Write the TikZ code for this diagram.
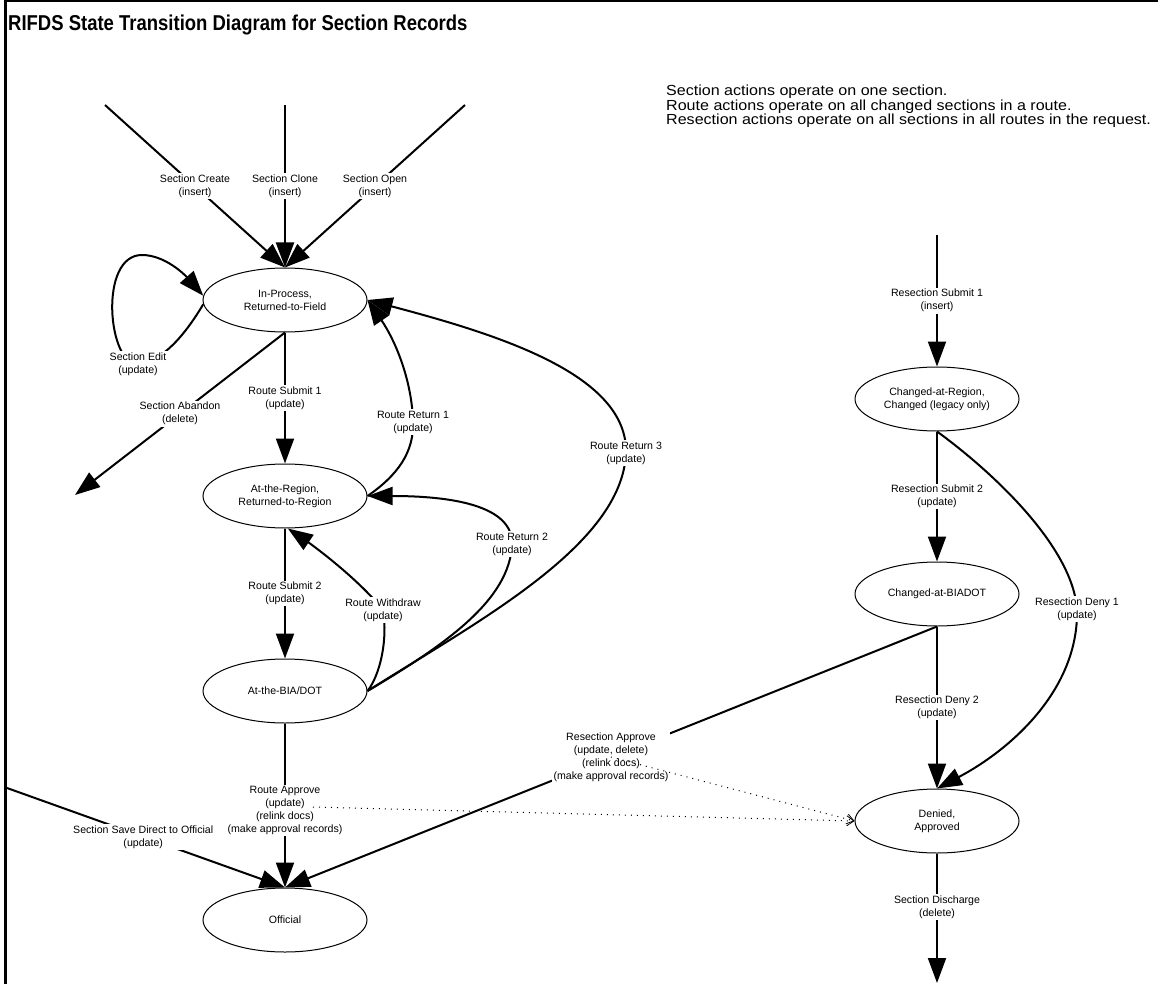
\documentclass[tikz,border=0pt]{standalone}
\usepackage{fontspec}
\setmainfont{Liberation Sans}
\newfontfamily\titlefont[FakeStretch=0.86]{Liberation Sans}
\newfontfamily\notefont[FakeStretch=1.1]{Liberation Sans}
\usetikzlibrary{arrows.meta,shapes.geometric}
\begin{document}
\begin{tikzpicture}[x=1pt,y=-1pt,
  state/.style={ellipse,draw,line width=1pt,minimum width=164pt,minimum height=64pt,inner sep=0pt,align=center,fill=white,font=\fontsize{10.6}{13}\selectfont},
  lbl/.style={fill=white,inner sep=1.5pt,align=center,font=\fontsize{10.6}{13}\selectfont},
  tr/.style={line width=2pt,-{Triangle[length=25pt,width=18pt]}},
  dotarrow/.style={line width=1pt,dash pattern=on 1pt off 5pt,-{Straight Barb[length=7pt,width=10pt,line width=0.8pt]}}
]
\useasboundingbox (0,0) rectangle (1158,984);
% frame
\draw[line width=2.5pt] (5.5,984) -- (5.5,1.2) -- (1158,1.2);
% title and note
\node[anchor=base west,inner sep=0pt,font=\titlefont\fontsize{21.5}{24}\bfseries\selectfont] (title) at (8,31) {RIFDS State Transition Diagram for Section Records};
\node[anchor=north west,inner sep=0pt,align=left,font={\notefont\fontsize{14.6}{14.5}\selectfont\lineskiplimit=-20pt}] (note) at (666,85) {Section actions operate on one section.\\Route actions operate on all changed sections in a route.\\Resection actions operate on all sections in all routes in the request.};
% states
\node[state] (ip) at (285,300) {In-Process,\\Returned-to-Field};
\node[state] (ar) at (285,496) {At-the-Region,\\Returned-to-Region};
\node[state] (bd) at (285,691) {At-the-BIA/DOT};
\node[state] (of) at (285,920) {Official};
\node[state] (cr) at (937,399) {Changed-at-Region,\\Changed (legacy only)};
\node[state] (cb) at (937,594) {Changed-at-BIADOT};
\node[state] (da) at (937,821) {Denied,\\Approved};
% free ends
\coordinate (sc0) at (105,105);
\coordinate (scl0) at (285,105);
\coordinate (so0) at (465,105);
\coordinate (sa1) at (75,495);
\coordinate (ssd0) at (7,788);
\coordinate (rs0) at (937,235);
\coordinate (sd1) at (937,983);
\coordinate (rad) at (313,807);
% left column
\draw[tr] (sc0) -- node[lbl,pos=0.5] {Section Create\\(insert)} (ip.north);
\draw[tr] (scl0) -- node[lbl,pos=0.5] {Section Clone\\(insert)} (ip.north);
\draw[tr] (so0) -- node[lbl,pos=0.5] {Section Open\\(insert)} (ip.north);
\draw[tr] (ip.183) .. controls (185,335) and (162,362) .. (138,364) node[lbl] {Section Edit\\(update)}
  .. controls (108,366) and (98,255) .. (142,255) .. controls (165,255) and (185,275) .. (ip.177);
\draw[tr] (ip.south) -- node[lbl,pos=0.5] {Section Abandon\\(delete)} (sa1);
\draw[tr] (ip.south) -- node[lbl,pos=0.5] {Route Submit 1\\(update)} (ar.north);
\draw[tr] (ar.east) .. controls (398,475) and (414,452) .. (413,422) node[lbl] {Route Return 1\\(update)}
  .. controls (412,380) and (395,340) .. (ip.east);
\draw[tr] (ar.south) -- node[lbl,pos=0.5] {Route Submit 2\\(update)} (bd.north);
\draw[tr] (bd.east) .. controls (445,645) and (510,600) .. (512,544) node[lbl] {Route Return 2\\(update)}
  .. controls (513,505) and (450,496) .. (ar.east);
\draw[tr] (bd.east) .. controls (480,620) and (622,545) .. (626,453) node[lbl] {Route Return 3\\(update)}
  .. controls (628,375) and (500,335) .. (ip.east);
\draw[tr] (bd.east) .. controls (380,675) and (388,640) .. (383,610) node[lbl] {Route Withdraw\\(update)}
  .. controls (355,575) and (305,540) .. (ar.-85);
\draw[tr] (ssd0) -- node[lbl,pos=0.49] {Section Save Direct to Official\\(update)} (of.north);
\draw[tr] (bd.south) -- node[lbl,pos=0.53] (lra) {Route Approve\\(update)\\(relink docs)\\(make approval records)} (of.north);
% right column
\draw[tr] (rs0) -- node[lbl,pos=0.5] {Resection Submit 1\\(insert)} (cr.north);
\draw[tr] (cr.south) -- node[lbl,pos=0.5] {Resection Submit 2\\(update)} (cb.north);
\draw[tr] (cr.south) .. controls (990,470) and (1072,545) .. (1077,609) node[lbl] {Resection Deny 1\\(update)}
  .. controls (1079,690) and (1010,750) .. (da.north);
\draw[tr] (cb.south) -- node[lbl,pos=0.5] {Resection Deny 2\\(update)} (da.north);
\draw[tr] (cb.south) -- node[lbl,pos=0.5] (lrap) {Resection Approve\\(update, delete)\\(relink docs)\\(make approval records)} (of.north);
\draw[tr] (da.south) -- node[lbl,pos=0.415] {Section Discharge\\(delete)} (sd1);
% dotted links
\draw[dotarrow] (rad) -- (da.west);
\draw[dotarrow] (lrap.center) -- (da.west);
\end{tikzpicture}
\end{document}
